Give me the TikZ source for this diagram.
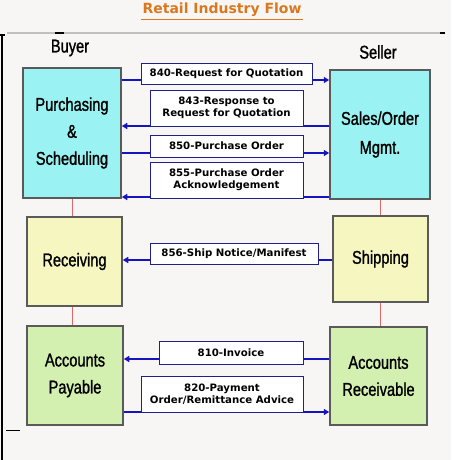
\documentclass[tikz,border=0pt]{standalone}
\usepackage{fontspec}
\setmainfont{DejaVu Sans}
\newfontfamily\narrowfont[FakeStretch=0.79,FakeBold=1.2]{Liberation Sans}
\newfontfamily\msgfont{DejaVu Sans}
\usetikzlibrary{arrows.meta}
\definecolor{bgc}{HTML}{F7F6F4}
\definecolor{cyanbox}{HTML}{9AF2F2}
\definecolor{yelbox}{HTML}{F6F6C0}
\definecolor{grnbox}{HTML}{D4F0B0}
\definecolor{boxedge}{HTML}{5A5A5A}
\definecolor{msgedge}{HTML}{20208A}
\definecolor{arrblue}{HTML}{1515C0}
\definecolor{linkred}{HTML}{D86A6A}
\definecolor{titlec}{HTML}{D9781E}
\tikzset{
  dept/.style={draw=boxedge, line width=1.5pt, inner sep=0pt, align=center,
    font=\narrowfont\fontsize{18.5}{27}\selectfont},
  msgbox/.style={draw=msgedge, line width=1pt, fill=white, inner sep=0pt, align=center,
    font=\msgfont\bfseries\fontsize{10.2}{12.3}\selectfont},
  arr/.style={draw=arrblue, line width=2pt, -{Triangle[length=5.5pt,width=6pt]}},
  link/.style={draw=linkred, line width=1pt},
  role/.style={font=\narrowfont\fontsize{18.5}{22}\selectfont}
}
\begin{document}
\begin{tikzpicture}[x=1pt,y=-1pt]
\useasboundingbox (0,0) rectangle (451,460);
\fill[bgc] (0,0) rectangle (451,460);
% frame lines
\draw[line width=2pt, draw={rgb,255:red,192;green,192;blue,192}] (7,33) -- (440,33);
\draw[line width=1.2pt, black] (55,33) -- (64,33);
\draw[line width=1.2pt, black] (440,33) -- (445,33);
\draw[line width=1.5pt, black] (2,35) -- (2,460);
\draw[line width=1.2pt, black] (0,35) -- (5,35);
\draw[line width=1pt, black] (6,430) -- (20,430);
% title
\node[font=\msgfont\bfseries\fontsize{14}{16}\selectfont, text=titlec, inner sep=1pt] (title) at (222,10) {Retail Industry Flow};
\draw[titlec, line width=1pt] ([yshift=-1.5pt]title.south west) -- ([yshift=-1.5pt]title.south east);
% roles
\node[role] (buyer) at (70,48) {Buyer};
\node[role] (seller) at (378,52) {Seller};
% department boxes
\node[dept, fill=cyanbox, minimum width=98pt, minimum height=130pt] (purch) at (72,133) {Purchasing\\\&\\Scheduling};
\node[dept, fill=cyanbox, minimum width=100pt, minimum height=129pt, font=\narrowfont\fontsize{18.5}{29}\selectfont] (sales) at (380,134.5) {Sales/Order\\Mgmt.};
\node[dept, fill=yelbox, minimum width=95pt, minimum height=89pt] (recv) at (74.5,261.5) {Receiving};
\node[dept, fill=yelbox, minimum width=95pt, minimum height=86pt] (ship) at (380.5,259) {Shipping};
\node[dept, fill=grnbox, minimum width=96pt, minimum height=99pt] (ap) at (75,375.5) {Accounts\\Payable};
\node[dept, fill=grnbox, minimum width=97pt, minimum height=98pt] (ar) at (378.5,376) {Accounts\\Receivable};
% vertical links
\draw[link] (purch.south) -- (purch.south |- recv.north);
\draw[link] (recv.south -| purch.south) -- (purch.south |- ap.north);
\draw[link] (sales.south) -- (sales.south |- ship.north);
\draw[link] (ship.south -| sales.south) -- (sales.south |- ar.north);
% arrow levels
\coordinate (y840) at (0,80);
\coordinate (y843) at (0,126);
\coordinate (y850) at (0,153);
\coordinate (y855) at (0,197);
\coordinate (y856) at (0,260);
\coordinate (y810) at (0,359);
\coordinate (y820) at (0,412);
\draw[arr] (purch.east |- y840) -- (sales.west |- y840);
\draw[arr] (sales.west |- y843) -- (purch.east |- y843);
\draw[arr] (purch.east |- y850) -- (sales.west |- y850);
\draw[arr] (sales.west |- y855) -- (purch.east |- y855);
\draw[arr] (ship.west |- y856) -- (recv.east |- y856);
\draw[arr] (ar.west |- y810) -- (ap.east |- y810);
\draw[arr] (ap.east |- y820) -- (ar.west |- y820);
% message boxes
\node[msgbox, minimum width=171pt, minimum height=21pt] (m840) at (226.5,73.5) {840-Request for Quotation};
\node[msgbox, minimum width=153pt, minimum height=36pt] (m843) at (226.5,108) {843-Response to\\Request for Quotation};
\node[msgbox, minimum width=153pt, minimum height=22pt] (m850) at (226.5,146) {850-Purchase Order};
\node[msgbox, minimum width=153pt, minimum height=36pt] (m855) at (226.5,180) {855-Purchase Order\\Acknowledgement};
\node[msgbox, minimum width=168pt, minimum height=21pt] (m856) at (234,253.5) {856-Ship Notice/Manifest};
\node[msgbox, minimum width=144pt, minimum height=23pt] (m810) at (231,352.5) {810-Invoice};
\node[msgbox, minimum width=162pt, minimum height=36pt] (m820) at (222,394) {820-Payment\\Order/Remittance Advice};
\end{tikzpicture}
\end{document}
